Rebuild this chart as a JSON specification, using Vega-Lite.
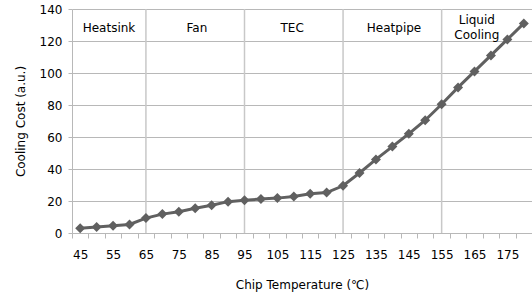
{
  "$schema": "https://vega.github.io/schema/vega-lite/v6.json",
  "width": 460,
  "height": 224,
  "autosize": {"type": "none"},
  "padding": {"left": 72, "top": 9, "right": 0, "bottom": 61},
  "background": "white",
  "config": {"font": "DejaVu Sans", "view": {"stroke": null}},
  "datasets": {
    "cost": [
      {"temp": 45, "cost": 3.0}, {"temp": 50, "cost": 3.8}, {"temp": 55, "cost": 4.5}, {"temp": 60, "cost": 5.3},
      {"temp": 65, "cost": 9.3}, {"temp": 70, "cost": 11.8}, {"temp": 75, "cost": 13.3}, {"temp": 80, "cost": 15.5},
      {"temp": 85, "cost": 17.3}, {"temp": 90, "cost": 19.6}, {"temp": 95, "cost": 20.5}, {"temp": 100, "cost": 21.2},
      {"temp": 105, "cost": 21.8}, {"temp": 110, "cost": 22.8}, {"temp": 115, "cost": 24.5}, {"temp": 120, "cost": 25.3},
      {"temp": 125, "cost": 29.5}, {"temp": 130, "cost": 37.5}, {"temp": 135, "cost": 46}, {"temp": 140, "cost": 54},
      {"temp": 145, "cost": 62}, {"temp": 150, "cost": 70.5}, {"temp": 155, "cost": 80.5}, {"temp": 160, "cost": 91},
      {"temp": 165, "cost": 101}, {"temp": 170, "cost": 111}, {"temp": 175, "cost": 121}, {"temp": 180, "cost": 131}
    ],
    "bounds": [{"temp": 65}, {"temp": 95}, {"temp": 125}, {"temp": 155}],
    "labels": [
      {"temp": 53.75, "cost": 128, "label": "Heatsink"},
      {"temp": 80.5, "cost": 128, "label": "Fan"},
      {"temp": 109.5, "cost": 128, "label": "TEC"},
      {"temp": 140.5, "cost": 128, "label": "Heatpipe"},
      {"temp": 165.7, "cost": 133.3, "label": "Liquid\nCooling"}
    ]
  },
  "layer": [
    {
      "data": {"name": "bounds"},
      "mark": {"type": "rule", "color": "#c8c8c8", "strokeWidth": 1.5},
      "encoding": {
        "x": {
          "field": "temp", "type": "quantitative",
          "scale": {"domain": [42.5, 182.5], "nice": false, "zero": false},
          "axis": {
            "values": [45, 50, 55, 60, 65, 70, 75, 80, 85, 90, 95, 100, 105, 110, 115, 120, 125, 130, 135, 140, 145, 150, 155, 160, 165, 170, 175, 180],
            "tickOffset": -8.2, "labelOffset": 8.2,
            "labelExpr": "datum.value % 10 == 5 ? datum.label : ''",
            "format": "d", "grid": false, "domain": true,
            "domainColor": "#b8b8b8", "tickColor": "#b8b8b8", "tickSize": 5,
            "labelPadding": 11, "labelFontSize": 12, "labelColor": "#000000",
            "labelFlush": false, "labelOverlap": false,
            "title": "Chip Temperature (℃)", "titleFontSize": 12, "titleFontWeight": "normal",
            "titleColor": "#000000", "titlePadding": 19
          }
        }
      }
    },
    {
      "data": {"name": "cost"},
      "mark": {"type": "line", "color": "#606060", "strokeWidth": 3, "point": {"shape": "diamond", "size": 100, "filled": true, "color": "#606060", "opacity": 1}},
      "encoding": {
        "x": {
          "field": "temp", "type": "quantitative",
          "scale": {"domain": [42.5, 182.5], "nice": false, "zero": false},
          "axis": {
            "values": [45, 50, 55, 60, 65, 70, 75, 80, 85, 90, 95, 100, 105, 110, 115, 120, 125, 130, 135, 140, 145, 150, 155, 160, 165, 170, 175, 180],
            "tickOffset": -8.2, "labelOffset": 8.2,
            "labelExpr": "datum.value % 10 == 5 ? datum.label : ''",
            "format": "d", "grid": false, "domain": true,
            "domainColor": "#b8b8b8", "tickColor": "#b8b8b8", "tickSize": 5,
            "labelPadding": 11, "labelFontSize": 12, "labelColor": "#000000",
            "labelFlush": false, "labelOverlap": false,
            "title": "Chip Temperature (℃)", "titleFontSize": 12, "titleFontWeight": "normal",
            "titleColor": "#000000", "titlePadding": 19
          }
        },
        "y": {
          "field": "cost", "type": "quantitative",
          "scale": {"domain": [0, 140], "nice": false},
          "axis": {
            "values": [0, 20, 40, 60, 80, 100, 120, 140],
            "grid": true, "gridColor": "#b8b8b8", "domainColor": "#b8b8b8", "tickColor": "#b8b8b8",
            "tickSize": 4, "labelPadding": 6, "labelFontSize": 12, "labelColor": "#000000",
            "title": "Cooling Cost (a.u.)", "titleFontSize": 12, "titleFontWeight": "normal",
            "titleColor": "#000000", "titlePadding": 12
          }
        }
      }
    },
    {
      "data": {"name": "labels"},
      "mark": {"type": "text", "fontSize": 12, "lineBreak": "\n", "color": "#000000", "baseline": "middle", "align": "center", "lineHeight": 15},
      "encoding": {
        "x": {
          "field": "temp", "type": "quantitative",
          "scale": {"domain": [42.5, 182.5], "nice": false, "zero": false},
          "axis": {
            "values": [45, 50, 55, 60, 65, 70, 75, 80, 85, 90, 95, 100, 105, 110, 115, 120, 125, 130, 135, 140, 145, 150, 155, 160, 165, 170, 175, 180],
            "tickOffset": -8.2, "labelOffset": 8.2,
            "labelExpr": "datum.value % 10 == 5 ? datum.label : ''",
            "format": "d", "grid": false, "domain": true,
            "domainColor": "#b8b8b8", "tickColor": "#b8b8b8", "tickSize": 5,
            "labelPadding": 11, "labelFontSize": 12, "labelColor": "#000000",
            "labelFlush": false, "labelOverlap": false,
            "title": "Chip Temperature (℃)", "titleFontSize": 12, "titleFontWeight": "normal",
            "titleColor": "#000000", "titlePadding": 19
          }
        },
        "y": {
          "field": "cost", "type": "quantitative",
          "scale": {"domain": [0, 140], "nice": false},
          "axis": {
            "values": [0, 20, 40, 60, 80, 100, 120, 140],
            "grid": true, "gridColor": "#b8b8b8", "domainColor": "#b8b8b8", "tickColor": "#b8b8b8",
            "tickSize": 4, "labelPadding": 6, "labelFontSize": 12, "labelColor": "#000000",
            "title": "Cooling Cost (a.u.)", "titleFontSize": 12, "titleFontWeight": "normal",
            "titleColor": "#000000", "titlePadding": 12
          }
        },
        "text": {"field": "label"}
      }
    }
  ]
}
